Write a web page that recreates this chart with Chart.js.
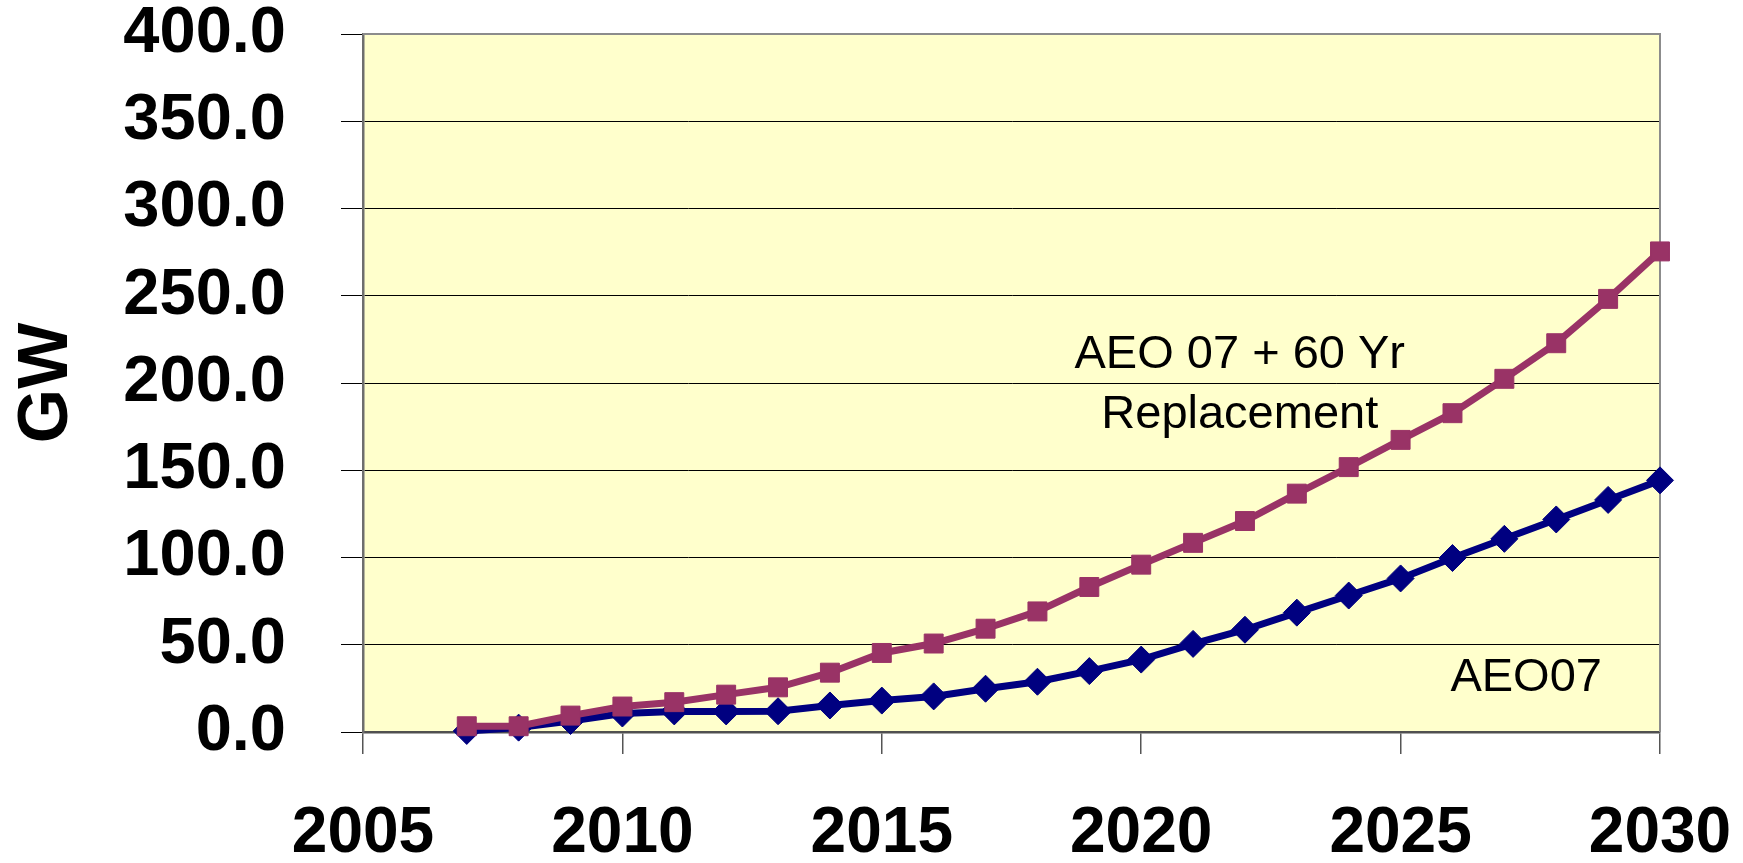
<!DOCTYPE html>
<html>
<head>
<meta charset="utf-8">
<script src="https://cdn.jsdelivr.net/npm/chart.js@4.4.1/dist/chart.umd.min.js"></script>
<style>
  html, body { margin: 0; padding: 0; background: #ffffff; }
  #wrap { width: 1743px; height: 863px; position: relative; }
</style>
</head>
<body>
<div id="wrap"><canvas id="chart" width="1743" height="863"></canvas></div>
<script>
// Installed capacity, GW, by year
const years = [2007, 2008, 2009, 2010, 2011, 2012, 2013, 2014, 2015, 2016, 2017, 2018,
               2019, 2020, 2021, 2022, 2023, 2024, 2025, 2026, 2027, 2028, 2029, 2030];

const aeo07 = [0.6, 2.5, 6.3, 10.6, 11.8, 11.8, 11.9, 15.2, 18.0, 20.4, 24.8, 28.8,
               34.9, 41.5, 50.5, 58.6, 68.4, 78.2, 88.0, 99.7, 110.7, 121.8, 133.0, 144.2];

const aeo07Replacement = [3.3, 3.3, 9.4, 14.6, 17.1, 21.4, 25.6, 34.0, 45.3, 50.7, 59.2, 69.1,
                          83.1, 95.9, 108.4, 120.9, 136.6, 151.8, 167.4, 182.7, 202.4, 222.8, 248.2, 275.4];

const seriesNames = ['AEO07', 'AEO 07 + 60 Yr Replacement'];
const yAxisTitle = 'GW';

// Series labels written inside the plot, anchored in data units
const seriesNotes = [
  { lines: ['AEO 07 + 60 Yr', 'Replacement'], x: 2021.9, y: [215.9, 181.6] },
  { lines: ['AEO07'], x: 2027.42, y: [30.9] }
];

const FONT = '"Liberation Sans", Arial, Helvetica, sans-serif';

const plotFrame = {
  id: 'plotFrame',
  beforeDraw(chart) {
    const { ctx, chartArea: a } = chart;
    ctx.save();
    ctx.fillStyle = '#FFFFCC';
    ctx.fillRect(a.left, a.top, a.right - a.left, a.bottom - a.top);
    ctx.restore();
  },
  beforeDatasetsDraw(chart) {
    const { ctx, chartArea: a } = chart;
    ctx.save();
    ctx.strokeStyle = '#8c8c8c';
    ctx.lineWidth = 2;
    ctx.beginPath();
    ctx.moveTo(a.left, a.top);
    ctx.lineTo(a.right, a.top);
    ctx.lineTo(a.right, a.bottom);
    ctx.stroke();
    ctx.restore();
  },
  afterDatasetsDraw(chart) {
    const { ctx } = chart;
    const xs = chart.scales.x, ys = chart.scales.y;
    ctx.save();
    ctx.fillStyle = '#000000';
    ctx.font = '47px ' + FONT;
    ctx.textAlign = 'center';
    ctx.textBaseline = 'middle';
    seriesNotes.forEach(n => {
      const px = xs.getPixelForValue(n.x);
      n.lines.forEach((t, i) => ctx.fillText(t, px, ys.getPixelForValue(n.y[i])));
    });
    ctx.restore();
  }
};

new Chart(document.getElementById('chart'), {
  type: 'line',
  data: {
    datasets: [
      {
        label: seriesNames[1],
        data: years.map((yr, i) => ({ x: yr, y: aeo07Replacement[i] })),
        borderColor: '#993366',
        backgroundColor: '#993366',
        borderWidth: 7,
        pointStyle: 'rect',
        pointRadius: 13.4,
        pointBorderWidth: 1,
        tension: 0,
        clip: false,
        order: 0
      },
      {
        label: seriesNames[0],
        data: years.map((yr, i) => ({ x: yr, y: aeo07[i] })),
        borderColor: '#000080',
        backgroundColor: '#000080',
        borderWidth: 7,
        pointStyle: 'rectRot',
        pointRadius: 13.5,
        pointBorderWidth: 1,
        tension: 0,
        clip: false,
        order: 1
      }
    ]
  },
  options: {
    responsive: false,
    devicePixelRatio: 1,
    animation: false,
    layout: { padding: { top: 34, right: 83, bottom: 0, left: 0 } },
    plugins: {
      legend: { display: false },
      tooltip: { enabled: false }
    },
    scales: {
      x: {
        type: 'linear',
        min: 2005,
        max: 2030,
        afterFit: s => {
          s.height = 131;
          s.paddingLeft = 72;
          s.paddingRight = 72;
        },
        ticks: {
          stepSize: 5,
          padding: 48,
          color: '#000000',
          maxRotation: 0,
          callback: v => String(v),
          font: { family: FONT, size: 64, weight: 'bold', lineHeight: 1 }
        },
        grid: {
          drawOnChartArea: false,
          drawTicks: true,
          tickLength: 22,
          color: '#555555',
          lineWidth: 1.5
        },
        border: { display: true, color: '#505050', width: 2.5 }
      },
      y: {
        min: 0,
        max: 400,
        afterFit: s => {
          s.width = 363;
          s.paddingTop = 30;
          s.paddingBottom = 30;
        },
        title: {
          display: true,
          text: yAxisTitle,
          color: '#000000',
          padding: { top: 6, bottom: 0 },
          font: { family: FONT, size: 70, weight: 'bold', lineHeight: 1.2 }
        },
        ticks: {
          stepSize: 50,
          padding: 55,
          color: '#000000',
          callback: v => v.toFixed(1),
          font: { family: FONT, size: 65, weight: 'bold', lineHeight: 1 }
        },
        grid: {
          drawOnChartArea: true,
          drawTicks: true,
          tickLength: 22,
          color: '#000000',
          lineWidth: 1
        },
        border: { display: true, color: '#6e6e6e', width: 2.5 }
      }
    }
  },
  plugins: [plotFrame]
});
</script>
</body>
</html>
